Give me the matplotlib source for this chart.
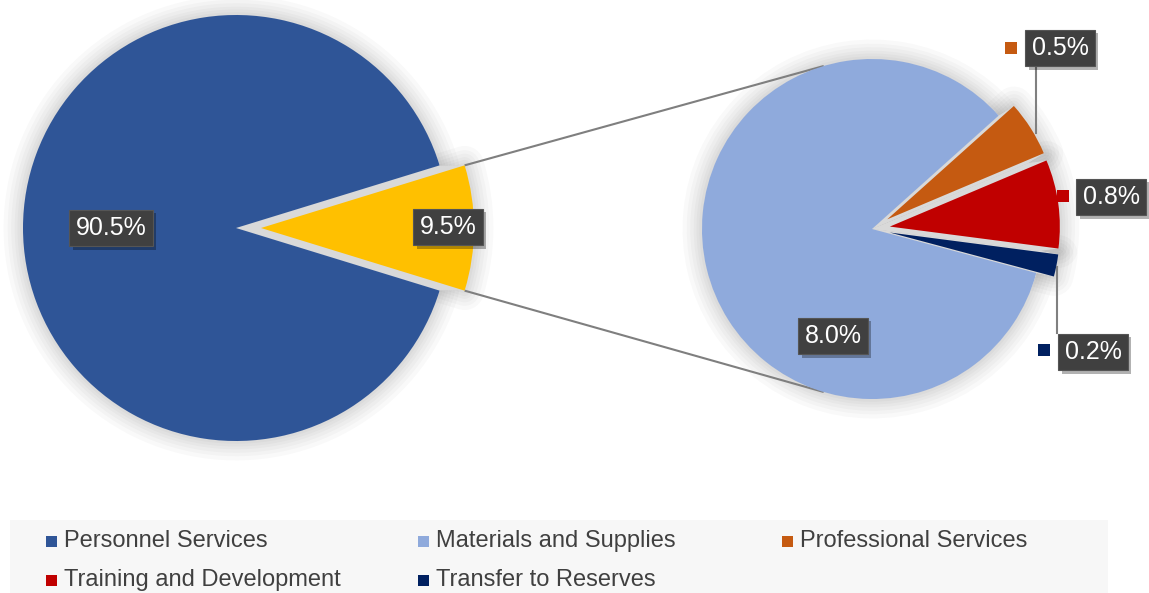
import matplotlib
matplotlib.use("Agg")
import matplotlib.pyplot as plt
import matplotlib.patheffects as pe
from matplotlib.patches import Wedge, Rectangle
import numpy as np

plt.rcParams['font.family'] = ['Liberation Sans', 'DejaVu Sans']

# ---------------- data ----------------
main_labels = ["Personnel Services", "Other"]
main_values = [90.5, 9.5]
sub_labels = ["Transfer to Reserves", "Training and Development",
              "Professional Services", "Materials and Supplies"]
sub_values = [0.2, 0.8, 0.5, 8.0]
legend_order = ["Personnel Services", "Materials and Supplies", "Professional Services",
                "Training and Development", "Transfer to Reserves"]

colors = {
    "Personnel Services": "#2F5597",
    "Other": "#FFC000",
    "Materials and Supplies": "#8FAADC",
    "Professional Services": "#C55A11",
    "Training and Development": "#C00000",
    "Transfer to Reserves": "#002060",
}

# ---------------- layout (pixels, origin top-left) ----------------
W, H = 1149, 593
fig = plt.figure(figsize=(W / 100, H / 100), dpi=100)
ax = fig.add_axes([0, 0, 1, 1])


def P(x, y):
    return (x, H - y)


L_center = P(236, 228)
L_r = 213
R_center = P(872, 229)
R_r = 170

GAP = '#D9D9D9'

# main pie
other_share = main_values[1] / sum(main_values)
wL, _ = ax.pie(main_values, colors=[colors[k] for k in main_labels],
               startangle=other_share * 360 / 2, counterclock=True,
               explode=[0, 25], center=L_center, radius=L_r,
               wedgeprops=dict(linewidth=0, zorder=5), frame=False)

# secondary pie
wR, _ = ax.pie(sub_values, colors=[colors[k] for k in sub_labels],
               startangle=-15, counterclock=True,
               explode=[18, 18, 18, 0], center=R_center, radius=R_r,
               wedgeprops=dict(linewidth=0, zorder=5), frame=False)


def backdrop(wedges, c0):
    # soft glow
    for lw in [28, 22, 17, 12, 8, 4]:
        for w in wedges:
            ax.add_patch(Wedge(w.center, w.r, w.theta1, w.theta2, facecolor='none',
                               edgecolor=(0, 0, 0, 0.024), lw=lw, zorder=1,
                               joinstyle='round'))
    # gray gaps between exploded slices
    for w in wedges:
        cx, cy = w.center
        for t in np.linspace(0, 1, 14):
            ax.add_patch(Wedge((c0[0] + t * (cx - c0[0]), c0[1] + t * (cy - c0[1])),
                               w.r, w.theta1, w.theta2, facecolor=GAP,
                               edgecolor='none', zorder=2))


backdrop(wL, L_center)
backdrop(wR, R_center)

# connector lines between pies
yw = wL[1]
for th, th_r in [(yw.theta2, 106.5), (yw.theta1, -106.5)]:
    x0 = yw.center[0] + yw.r * np.cos(np.radians(th))
    y0 = yw.center[1] + yw.r * np.sin(np.radians(th))
    x1 = R_center[0] + R_r * np.cos(np.radians(th_r))
    y1 = R_center[1] + R_r * np.sin(np.radians(th_r))
    ax.plot([x0, x1], [y0, y1], color='#7F7F7F', lw=1.5, zorder=4,
            solid_capstyle='butt')

# leader lines
for (xa, ya), (xb, yb) in [((1036, 67), (1036, 133)), ((1057, 267), (1057, 333))]:
    a, b = P(xa, ya), P(xb, yb)
    ax.plot([a[0], b[0]], [a[1], b[1]], color='#808080', lw=1.5, zorder=6)


# data labels
def label(xp, yp, txt):
    x, y = P(xp, yp)
    t = ax.text(x, y, txt, color='white', fontsize=18, ha='center', va='center',
                bbox=dict(boxstyle='square,pad=0.25', fc='#404040', ec='#555555', lw=0.8),
                zorder=9)
    t.get_bbox_patch().set_path_effects(
        [pe.SimplePatchShadow(offset=(2.5, -2.5), shadow_rgbFace='black', alpha=0.3),
         pe.Normal()])


label(111, 228, f"{main_values[0]:.1f}%")
label(448, 227, f"{main_values[1]:.1f}%")
sub_pos = {"Materials and Supplies": (833, 336),
           "Professional Services": (1060, 48),
           "Training and Development": (1111, 197),
           "Transfer to Reserves": (1093, 352)}
key_pos = {"Professional Services": (1011, 48),
           "Training and Development": (1063, 196),
           "Transfer to Reserves": (1044, 350)}
for name, v in zip(sub_labels, sub_values):
    label(*sub_pos[name], f"{v:.1f}%")
    if name in key_pos:
        kx, ky = P(*key_pos[name])
        ax.add_patch(Rectangle((kx - 6, ky - 6), 12, 12, facecolor=colors[name],
                               edgecolor='none', zorder=9))

# legend (manual, Excel style)
ax.add_patch(Rectangle(P(10, 600), 1098, 80, facecolor='#F7F7F7', edgecolor='none',
                       zorder=1))
leg_pos = [(46, 541), (418, 541), (782, 541), (46, 580), (418, 580)]
for name, (lx, ly) in zip(legend_order, leg_pos):
    x, y = P(lx, ly)
    ax.add_patch(Rectangle((x, y - 5.5), 11, 11, facecolor=colors[name],
                           edgecolor='none', zorder=3))
    ax.text(x + 18, y, name, fontsize=17, color='#404040', ha='left',
            va='center', zorder=3)

ax.set_xlim(0, W)
ax.set_ylim(0, H)
ax.set_aspect('equal')
ax.axis('off')

fig.savefig('out.png', dpi=100)
